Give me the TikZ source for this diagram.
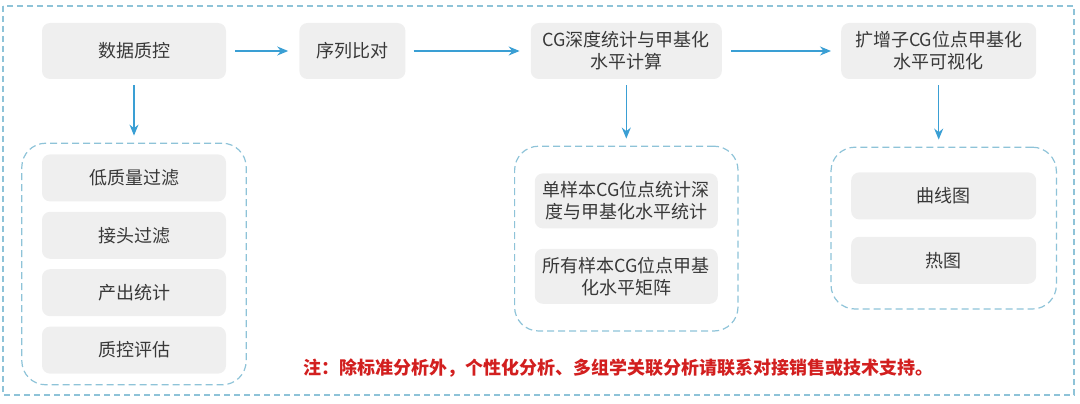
\documentclass[tikz,border=0pt]{standalone}
\usepackage{fontspec}
\setmainfont{Noto Sans CJK SC}
\usepackage{xcolor}
\usepackage{tikz}
\usetikzlibrary{arrows.meta, positioning, fit, backgrounds}
\definecolor{boxgray}{HTML}{EFEFEF}
\definecolor{textgray}{HTML}{383838}
\definecolor{flowblue}{HTML}{3A9FD4}
\definecolor{dashblue}{HTML}{8EC3D8}
\definecolor{notered}{HTML}{D21F1F}

\begin{document}
\begin{tikzpicture}[
        x=1pt, y=1pt,
        box/.style={rectangle, rounded corners=8pt, fill=boxgray, align=center, text=textgray, font=\fontsize{18}{22}\selectfont, inner sep=0pt, minimum height=56pt},
        sub/.style={box, minimum height=47pt},
        arrow/.style={-{Stealth[length=11pt, width=9pt]}, line width=1.4pt, draw=flowblue},
        groupbox/.style={rectangle, rounded corners=24pt, draw=dashblue, dash pattern=on 7pt off 4pt, line width=1.2pt, inner xsep=20pt},
        note/.style={text=notered, font=\fontsize{18}{22}\selectfont\bfseries, inner sep=0pt}
    ]
        \useasboundingbox (0,0) rectangle (1080,-404);
        \draw[dashblue, dash pattern=on 6pt off 4pt, line width=1.1pt] (3,-6) rectangle (1074,-395);

        % MAIN FLOW
        \node[box, minimum width=184pt] (qc) at (134,-51) {数据质控};
        \node[box, minimum width=106pt] (align) [right=73pt of qc] {序列比对};
        \node[box, minimum width=191pt] (meth) [right=125pt of align] {CG深度统计与甲基化\\水平计算};
        \node[box, minimum width=195pt] (vis) [right=119pt of meth] {扩增子CG位点甲基化\\水平可视化};

        % QC STEPS
        \node[sub, minimum width=184pt] (lowq) [below=75pt of qc] {低质量过滤};
        \node[sub, minimum width=184pt] (adapter) [below=10pt of lowq] {接头过滤};
        \node[sub, minimum width=184pt] (yield) [below=10pt of adapter] {产出统计};
        \node[sub, minimum width=184pt] (assess) [below=10pt of yield] {质控评估};

        % METHYLATION RESULTS
        \node[sub, minimum width=183pt, minimum height=55pt] (single) [below=94pt of meth] {单样本CG位点统计深\\度与甲基化水平统计};
        \node[sub, minimum width=183pt, minimum height=55pt] (matrix) [below=20pt of single] {所有样本CG位点甲基\\化水平矩阵};

        % PLOTS
        \node[sub, minimum width=185pt] (curve) [below=93pt of vis, xshift=5pt] {曲线图};
        \node[sub, minimum width=185pt] (heat) [below=17pt of curve] {热图};

        % GROUP FRAMES
        \begin{scope}[on background layer]
            \node[groupbox, inner ysep=11pt, fit=(lowq) (assess)] (qc_group) {};
            \node[groupbox, inner ysep=27pt, fit=(single) (matrix)] (meth_group) {};
            \node[groupbox, inner ysep=25pt, fit=(curve) (heat)] (vis_group) {};
        \end{scope}

        % ARROWS
        \draw[arrow, shorten <=9pt, shorten >=11pt] (qc) -- (align);
        \draw[arrow, shorten <=8pt, shorten >=11pt] (align) -- (meth);
        \draw[arrow, shorten <=9pt, shorten >=10pt] (meth) -- (vis);
        \draw[arrow, shorten <=6pt, shorten >=7pt] (qc) -- (qc_group);
        \draw[arrow, shorten <=6pt, shorten >=7pt] (meth.south) -- (meth.south |- meth_group.north);
        \draw[arrow, shorten <=6pt, shorten >=7pt] (vis.south) -- (vis.south |- vis_group.north);

        % NOTE
        \node[note, anchor=west] (remark) at (303,-368) {注：除标准分析外，个性化分析、多组学关联分析请联系对接销售或技术支持。};
    \end{tikzpicture}
\end{document}
